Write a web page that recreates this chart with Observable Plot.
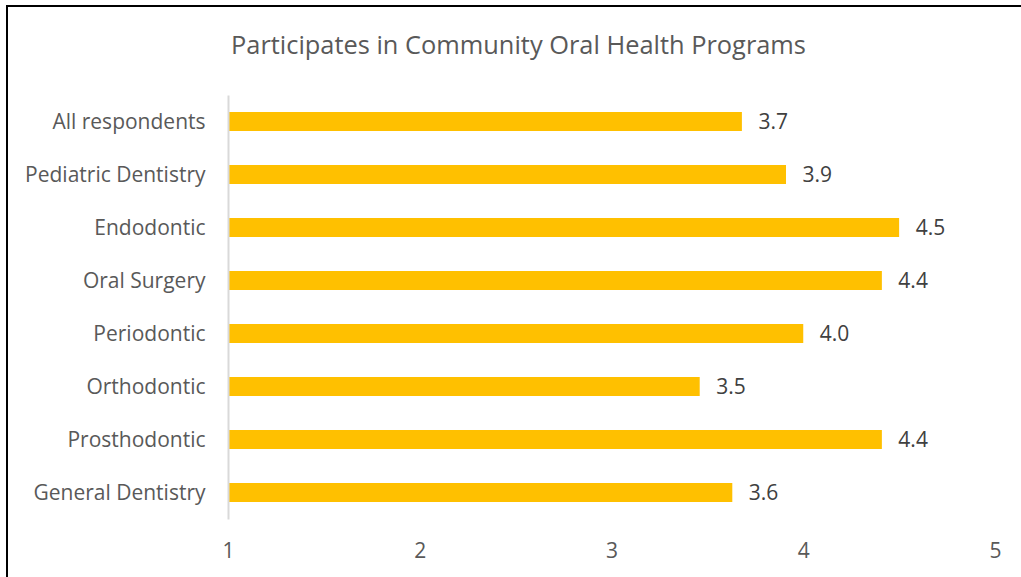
<!DOCTYPE html>
<html>
<head>
<meta charset="utf-8">
<script src="https://cdn.jsdelivr.net/npm/d3@7"></script>
<script src="https://cdn.jsdelivr.net/npm/@observablehq/plot@0.6"></script>
<style>
  html, body { margin: 0; padding: 0; background: #fff; }
  #wrap { position: relative; width: 1021px; height: 577px; overflow: hidden; font-family: "Open Sans", sans-serif; }
  #frame { position: absolute; left: 6px; top: 5px; width: 1030px; height: 600px; border-left: 2px solid #000; border-top: 2px solid #000; pointer-events: none; }
  #title { height: 88px; display: flex; align-items: center; justify-content: center; padding-left: 16px; font-size: 25.4px; color: #595959; }
  #chart svg { display: block; }
</style>
</head>
<body>
<div id="wrap">
  <div id="title">Participates in Community Oral Health Programs</div>
  <div id="chart"></div>
  <div id="frame"></div>
</div>
<script>
const categories = ["All respondents", "Pediatric Dentistry", "Endodontic", "Oral Surgery", "Periodontic", "Orthodontic", "Prosthodontic", "General Dentistry"];
const values = [3.68, 3.91, 4.50, 4.41, 4.00, 3.46, 4.41, 3.63];
const xTicks = [1, 2, 3, 4, 5];

const data = categories.map((c, i) => ({category: c, value: values[i]}));

const chart = Plot.plot({
  width: 1021,
  height: 489,
  marginLeft: 228,
  marginRight: 26,
  marginTop: 7.5,
  marginBottom: 57.5,
  style: {fontFamily: "'Open Sans', sans-serif", fontSize: "21px", color: "#595959", background: "transparent"},
  x: {domain: [1, 5]},
  y: {domain: categories, paddingInner: 0.64, paddingOuter: 0.32, label: null},
  marks: [
    Plot.axisY({tickSize: 0, tickPadding: 23, label: null, fontSize: 21, fill: "#595959"}),
    Plot.axisX({ticks: xTicks, tickSize: 0, tickPadding: 23, label: null, fontSize: 21, fill: "#595959", tickFormat: d3.format("d")}),
    Plot.barX(data, {y: "category", x1: 1, x2: "value", fill: "#FFC000"}),
    Plot.ruleX([1], {stroke: "#d9d9d9", strokeWidth: 2}),
    Plot.text(data, {y: "category", x: "value", text: d => d3.format(".1f")(d.value), textAnchor: "start", dx: 16, fontSize: 21, fill: "#404040"})
  ]
});
document.getElementById("chart").appendChild(chart);
</script>
</body>
</html>
